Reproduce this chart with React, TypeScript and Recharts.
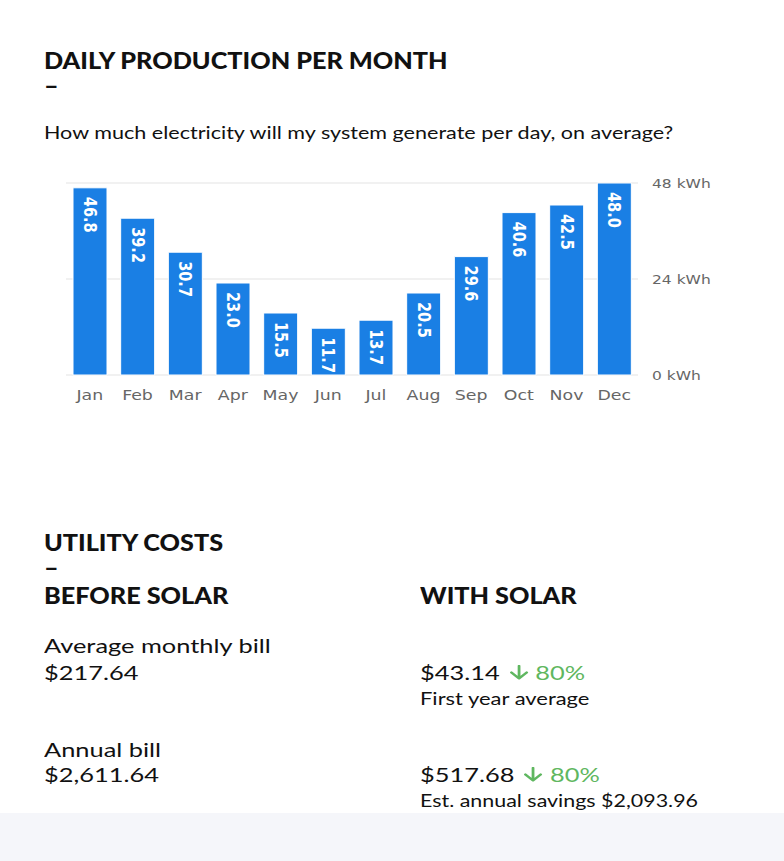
import React from 'react';
import { BarChart, Bar, XAxis, YAxis, CartesianGrid, LabelList } from 'recharts';

const months = ['Jan', 'Feb', 'Mar', 'Apr', 'May', 'Jun', 'Jul', 'Aug', 'Sep', 'Oct', 'Nov', 'Dec'];
const dailyKwh = [46.8, 39.2, 30.7, 23.0, 15.5, 11.7, 13.7, 20.5, 29.6, 40.6, 42.5, 48.0];
const yTicks = [0, 24, 48];

const data = months.map((m, i) => ({ month: m, kwh: dailyKwh[i] }));

const SX = 1.24;
const LATO = 'Lato, "Open Sans", sans-serif';
const CHART_FONT = '"DejaVu Sans", Verdana, sans-serif';
const GREEN = '#5fb760';

function T({ baseline, left, size, weight = 400, color = '#111', sx = SX, children }: any) {
  return (
    <div
      style={{
        position: 'absolute',
        left,
        top: baseline - 0.887 * size,
        fontFamily: LATO,
        fontSize: size,
        fontWeight: weight,
        lineHeight: 1,
        color,
        whiteSpace: 'nowrap',
        transform: `scaleX(${sx})`,
        transformOrigin: 'left top',
      }}
    >
      {children}
    </div>
  );
}

const Arrow = () => (
  <svg width={16} height={15} viewBox="0 0 16 15" style={{ display: 'inline-block', verticalAlign: 'baseline', margin: '0 5px 0 7px' }}>
    <path d="M8 1 L8 13.5 M2 7.5 L8 13.5 L14 7.5" fill="none" stroke={GREEN} strokeWidth={2.2} strokeLinecap="round" strokeLinejoin="round" />
  </svg>
);

const XTick = (props: any) => {
  const { x, y, payload } = props;
  return (
    <text
      transform={`translate(${x},${y + 17}) scale(${SX},1)`}
      textAnchor="middle"
      fontFamily={CHART_FONT}
      fontSize={14}
      fill="#666"
    >
      {payload.value}
    </text>
  );
};

const YTick = (props: any) => {
  const { x, y, payload } = props;
  return (
    <text
      transform={`translate(${x + 6},${y + 5}) scale(${SX},1)`}
      textAnchor="start"
      fontFamily={CHART_FONT}
      fontSize={12.5}
      fill="#666"
    >
      {`${payload.value} kWh`}
    </text>
  );
};

const BarLabel = (props: any) => {
  const { x, y, width, value } = props;
  const cx = x + width / 2;
  return (
    <text
      transform={`translate(${cx},${y + 9}) scale(${SX},1) rotate(90)`}
      textAnchor="start"
      dominantBaseline="central"
      fontFamily={CHART_FONT}
      fontSize={14.5}
      fontWeight={600}
      fill="#fff"
    >
      {Number(value).toFixed(1)}
    </text>
  );
};

const HSX = 1.147;

export default function App() {
  return (
    <div style={{ position: 'absolute', left: 0, top: 0, width: 784, height: 861, background: '#fff', overflow: 'hidden' }}>
      <T baseline={70} left={44} size={22} weight={900} sx={HSX}>DAILY PRODUCTION PER MONTH</T>
      <T baseline={95} left={44} size={22} weight={900} sx={HSX}>–</T>
      <T baseline={139} left={44} size={17} sx={1.268}>How much electricity will my system generate per day, on average?</T>

      <div style={{ position: 'absolute', left: 0, top: 150 }}>
        <BarChart
          width={784}
          height={270}
          data={data}
          margin={{ top: 33, left: 66, right: 86, bottom: 15 }}
          barSize={34}
        >
          <CartesianGrid horizontal vertical={false} stroke="#e3e3e3" />
          <XAxis
            dataKey="month"
            axisLine={false}
            tickLine={false}
            interval={0}
            height={30}
            tick={<XTick />}
          />
          <YAxis
            orientation="right"
            domain={[0, 48]}
            ticks={yTicks}
            axisLine={false}
            tickLine={false}
            width={60}
            tick={<YTick />}
          />
          <Bar dataKey="kwh" fill="#1a7fe4" stroke="#ffffff" strokeWidth={1} isAnimationActive={false}>
            <LabelList dataKey="kwh" content={<BarLabel />} />
          </Bar>
        </BarChart>
      </div>

      <T baseline={552} left={44} size={22} weight={900} sx={HSX}>UTILITY COSTS</T>
      <T baseline={577} left={44} size={22} weight={900} sx={HSX}>–</T>
      <T baseline={605} left={44} size={22} weight={900} sx={HSX}>BEFORE SOLAR</T>
      <T baseline={605} left={420} size={22} weight={900} sx={HSX}>WITH SOLAR</T>

      <T baseline={653} left={44} size={20} sx={1.27}>Average monthly bill</T>
      <T baseline={680} left={44} size={20} sx={1.27}>$217.64</T>
      <T baseline={680} left={420} size={20} sx={1.27}>
        $43.14<Arrow /><span style={{ color: GREEN }}>80%</span>
      </T>
      <T baseline={705} left={420} size={18} sx={1.219}>First year average</T>

      <T baseline={757} left={44} size={20} sx={1.27}>Annual bill</T>
      <T baseline={782} left={44} size={20} sx={1.27}>$2,611.64</T>
      <T baseline={782} left={420} size={20} sx={1.27}>
        $517.68<Arrow /><span style={{ color: GREEN }}>80%</span>
      </T>
      <T baseline={807} left={420} size={18} sx={1.19}>Est. annual savings $2,093.96</T>

      <div style={{ position: 'absolute', left: 0, top: 813, width: 784, height: 48, background: '#f5f6fa' }} />
    </div>
  );
}
